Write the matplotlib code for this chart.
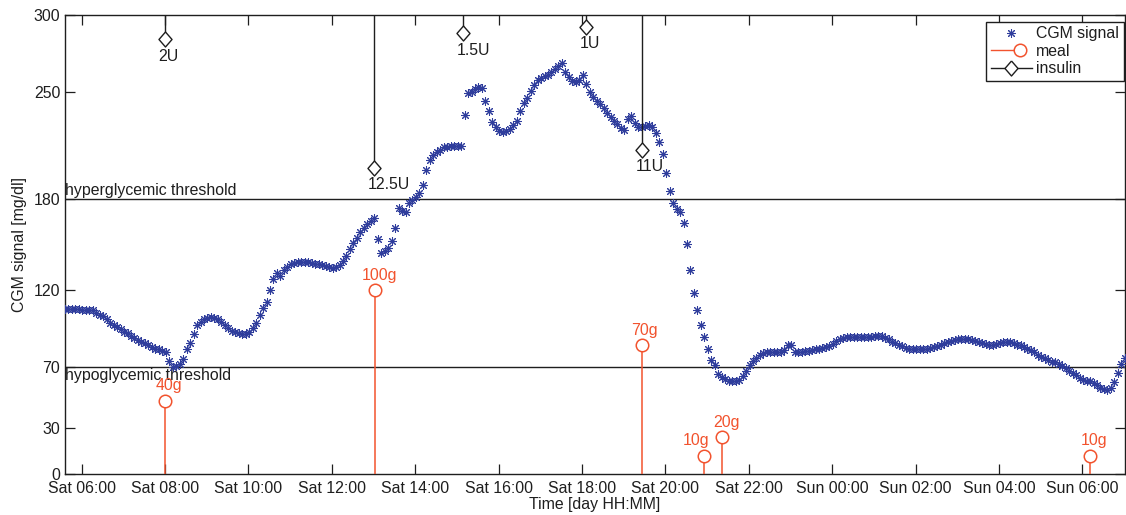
import numpy as np
import matplotlib
matplotlib.use("Agg")
import matplotlib.pyplot as plt
from matplotlib.lines import Line2D
from matplotlib.legend_handler import HandlerBase

plt.rcParams['font.family'] = ['Liberation Sans', 'DejaVu Sans']

# ---------------- data ----------------
start_hour = 5.6          # Sat 05:36 (hours since Sat 00:00)
sample_min = 5            # CGM sampling period [min]

cgm = [
    108, 108, 108, 108, 108, 107.5, 107.5, 107, 107, 105.5, 104, 103,
    101, 99, 97.5, 96, 94.5, 93, 92, 90.5, 89, 87.5, 86.5, 85.5,
    84.5, 83, 82, 81.5, 80.5, 80, 74, 70, 70.5, 72, 75, 81.5,
    85.5, 91.5, 97.5, 99.5, 101, 102, 102.5, 102, 101, 99.5, 97.5, 95.5,
    93.5, 92.5, 92, 91.5, 91.5, 92.5, 95.5, 99, 104, 108.5, 112.5, 120,
    127.5, 131.5, 129.5, 133.5, 135.5, 137, 138, 138.5, 138.5, 138.5, 138.5, 138,
    137.5, 137, 136.5, 136, 135, 134.5, 135, 136.5, 139, 142.5, 147, 151,
    154.5, 158, 161, 163.5, 165.5, 167, 153.5, 144.5, 146, 148, 152.5, 161,
    174, 172, 171, 177, 179, 181, 183.5, 189, 198.5, 205, 208.5, 210.5,
    212, 213.5, 214, 214.5, 214.5, 214.5, 214.5, 234.5, 249, 250, 251.5, 253,
    252, 244, 237, 230, 226.5, 224.5, 223.5, 224, 225.5, 228, 231, 237,
    242.5, 245.5, 250.5, 254.5, 257.5, 259, 260, 261, 263, 264.5, 266.5, 268.5,
    263, 259.5, 257, 256, 257.5, 261, 255, 249.5, 246.5, 244, 242, 239.5,
    236, 233.5, 231, 228.5, 226, 225, 232, 234, 229.5, 226.5, 227, 227.5,
    228, 227, 223, 217, 209, 197, 185, 177, 173, 171, 164, 150.5,
    133.5, 118, 107, 97.5, 89.5, 81.5, 74.5, 71, 65.5, 63.5, 62, 61,
    60.5, 60.5, 61.5, 64, 67.5, 71.5, 74, 76, 77.5, 79, 79.5, 79.5,
    79.5, 79.5, 80, 81, 84, 84, 80, 79.5, 80, 80.5, 80.5, 81,
    81.5, 82, 82.5, 83, 83.5, 85, 87, 88.5, 89, 89.5, 89.5, 89.5,
    89.5, 89.5, 89.5, 89.5, 89.5, 90, 90.5, 90.5, 89, 88, 86.5, 85.5,
    84.5, 83.5, 82.5, 82, 81.5, 81.5, 81.5, 81.5, 82, 82.5, 83, 83.5,
    84.5, 85.5, 86.5, 87, 87.5, 88, 88.5, 88.5, 88, 87.5, 87, 86,
    85.5, 85, 84.5, 84.5, 85, 85.5, 86, 86.5, 86, 85.5, 84.5, 84,
    83, 82, 81, 79.5, 78, 76.5, 75.5, 74.5, 73.5, 73, 72, 70.5,
    69, 67.5, 66, 64.5, 63, 61.5, 61, 61, 59.5, 58, 56.5, 55.5,
    55, 56.5, 60, 66, 72, 75.5,
]

meal_times = [8.0, 13.033, 19.433, 20.933, 21.367, 30.183]   # hours since Sat 00:00
meal_grams = [40, 100, 70, 10, 20, 10]

insulin_times = [8.0, 13.017, 15.15, 18.1, 19.433]
insulin_units = [2, 12.5, 1.5, 1, 11]

hyper_threshold = 180
hypo_threshold = 70

xtick_hours = [6, 8, 10, 12, 14, 16, 18, 20, 22, 24, 26, 28, 30]
xtick_labels = ['Sat 06:00', 'Sat 08:00', 'Sat 10:00', 'Sat 12:00', 'Sat 14:00',
                'Sat 16:00', 'Sat 18:00', 'Sat 20:00', 'Sat 22:00', 'Sun 00:00',
                'Sun 02:00', 'Sun 04:00', 'Sun 06:00']
yticks = [0, 30, 70, 120, 180, 250, 300]

# ---------------- style ----------------
W, H = 1126, 515
FS = 11.4
BLUE = '#2f3d9c'
RED = '#f2532e'
DARK = '#1e1e1e'
meal_label_dx = [3, 3, 2, -6, 3, 3]   # points

t = start_hour + np.arange(len(cgm)) * sample_min / 60.0
meal_h = [1.2 * g for g in meal_grams]          # display height of meal stems
ins_tip = [300 - 8 * u for u in insulin_units]  # insulin stems hang from top

fig = plt.figure(figsize=(W / 100, H / 100), dpi=100)
ax = fig.add_axes([65 / W, 41 / H, 1060 / W, 459 / H])

# thresholds
ax.axhline(hyper_threshold, color=DARK, lw=1.0, zorder=1)
ax.axhline(hypo_threshold, color=DARK, lw=1.0, zorder=1)
ax.text(start_hour + 0.01, hyper_threshold + 0.5, 'hyperglycemic threshold', fontsize=FS,
        color=DARK, ha='left', va='bottom', zorder=2)
ax.text(start_hour + 0.01, hypo_threshold - 0.5, 'hypoglycemic threshold', fontsize=FS,
        color=DARK, ha='left', va='top', zorder=2)

# CGM
ast = (8, 2, 0)
ax.plot(t, cgm, linestyle='none', marker=ast, ms=6.2, mew=0.75, color=BLUE, zorder=3)

# meals
ax.vlines(meal_times, 0, meal_h, color=RED, lw=1.1, zorder=4)
ax.plot(meal_times, meal_h, linestyle='none', marker='o', ms=9, mew=1.1,
        mec=RED, mfc='white', zorder=5)
for mt, mh, g, dx in zip(meal_times, meal_h, meal_grams, meal_label_dx):
    ax.annotate(f'{g}g', (mt, mh), xytext=(dx, 7.5), textcoords='offset points',
                ha='center', va='baseline', fontsize=FS, color=RED, zorder=6)

# insulin
dverts = [(0, 1), (0.87, 0), (0, -1), (-0.87, 0), (0, 1)]
ax.vlines(insulin_times, ins_tip, 300, color=DARK, lw=1.0, zorder=4)
ax.plot(insulin_times, ins_tip, linestyle='none', marker=dverts, ms=10.8, mew=1.0,
        mec=DARK, mfc='white', zorder=5)
for it, tip, u in zip(insulin_times, ins_tip, insulin_units):
    ax.annotate(f'{u:g}U', (it, tip), xytext=(-4.7, -15.3), textcoords='offset points',
                ha='left', va='baseline', fontsize=FS, color=DARK, zorder=6)

# axes
ax.set_xlim(start_hour, t[-1] + 0.005)
ax.set_ylim(0, 300)
ax.set_xticks(xtick_hours)
ax.set_xticklabels(xtick_labels)
ax.set_yticks(yticks)
ax.tick_params(direction='in', length=7, width=0.9, top=True, right=True,
               labelsize=FS, colors=DARK)
ax.tick_params(axis='x', pad=5.2)
ax.tick_params(axis='y', pad=3.5)
for s in ax.spines.values():
    s.set_linewidth(1.0)
    s.set_color(DARK)
ax.set_xlabel('Time [day HH:MM]', fontsize=FS, color=DARK, labelpad=0.5)
ax.set_ylabel('CGM signal [mg/dl]', fontsize=FS, color=DARK, labelpad=5)


# legend
class StemHandler(HandlerBase):
    def __init__(self, frac, full):
        super().__init__()
        self.frac = frac
        self.full = full

    def create_artists(self, legend, orig, xdescent, ydescent, width, height, fontsize, trans):
        y = height / 2 - ydescent
        x0 = -xdescent
        xm = x0 + width * self.frac
        x1 = x0 + width if self.full else xm
        ln = Line2D([x0, x1], [y, y], color=orig.get_mec(), lw=1.0)
        mk = Line2D([xm], [y], linestyle='none', marker=orig.get_marker(),
                    ms=orig.get_markersize(), mew=orig.get_mew(),
                    mec=orig.get_mec(), mfc='white')
        ln.set_transform(trans)
        mk.set_transform(trans)
        return [ln, mk]


h_cgm = Line2D([], [], linestyle='none', marker=ast, ms=6.2, mew=0.75, color=BLUE)
h_meal = Line2D([], [], linestyle='none', marker='o', ms=9, mew=1.1, mec=RED, mfc='white')
h_ins = Line2D([], [], linestyle='none', marker=dverts, ms=10.8, mew=1.0, mec=DARK, mfc='white')
leg = ax.legend([h_cgm, h_meal, h_ins], ['CGM signal', 'meal', 'insulin'],
                loc='upper right', bbox_to_anchor=(0.999, 0.9854), borderaxespad=0,
                fontsize=FS, frameon=True, fancybox=False, shadow=False,
                handlelength=2.55, handletextpad=0.3, borderpad=0.3, labelspacing=0.15,
                numpoints=1,
                handler_map={h_meal: StemHandler(0.72, False), h_ins: StemHandler(0.5, True)})
leg.get_frame().set_edgecolor(DARK)
leg.get_frame().set_linewidth(1.0)
leg.get_frame().set_alpha(1)
for txt in leg.get_texts():
    txt.set_color(DARK)

fig.savefig('out.png', dpi=100)
